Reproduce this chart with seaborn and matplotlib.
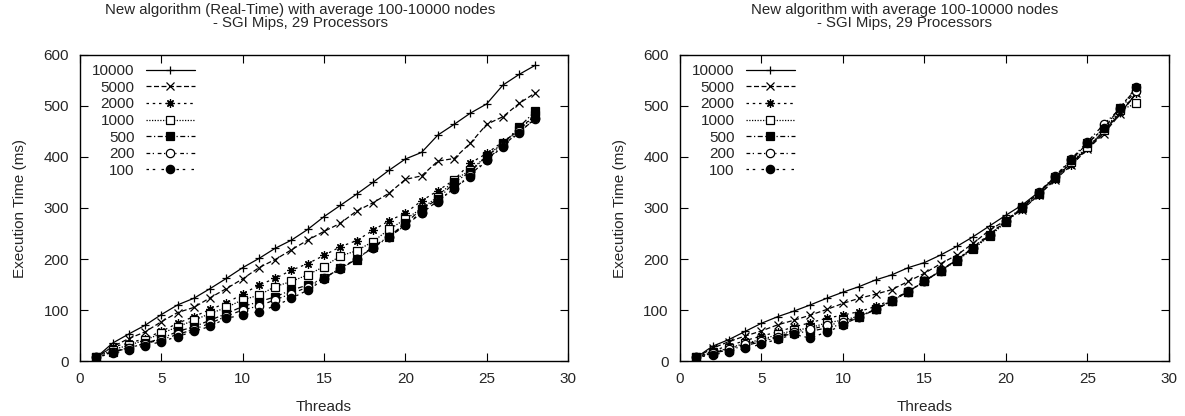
import numpy as np
import pandas as pd
import matplotlib
matplotlib.use("Agg")
import matplotlib.pyplot as plt
import seaborn as sns

# Data (execution time in ms per thread count)
threads = list(range(1, 29))
node_counts = ["10000", "5000", "2000", "1000", "500", "200", "100"]

# Left panel: new algorithm (Real-Time)
rt_10000 = [7, 35, 53, 70, 91, 110, 123, 142, 162, 183, 201, 221, 237, 258,
            283, 305, 327, 350, 374, 396, 409, 443, 464, 486, 504, 541, 562, 580]
rt_5000 = [7, 28, 44, 57, 77, 95, 105, 124, 142, 161, 183, 199, 218, 237,
           254, 270, 294, 310, 329, 356, 363, 392, 397, 427, 464, 479, 505, 526]
rt_2000 = [7, 28, 35, 44, 58, 74, 87, 101, 114, 131, 149, 162, 178, 191,
           207, 224, 236, 256, 275, 290, 314, 334, 355, 388, 407, 430, 453, 485]
rt_1000 = [7, 22, 31, 41, 54, 67, 80, 93, 105, 120, 129, 146, 156, 169,
           185, 206, 216, 234, 258, 278, 299, 322, 355, 374, 402, 427, 453, 482]
rt_500 = [7, 18, 25, 35, 44, 58, 67, 80, 93, 107, 116, 126, 139, 149,
          162, 182, 199, 224, 244, 270, 298, 317, 350, 371, 402, 425, 459, 490]
rt_200 = [7, 18, 26, 34, 42, 52, 62, 74, 88, 100, 108, 120, 132, 145,
          162, 182, 200, 222, 243, 266, 290, 314, 338, 365, 395, 422, 450, 474]
rt_100 = [7, 15, 22, 30, 38, 48, 58, 68, 84, 90, 97, 108, 123, 139,
          160, 180, 200, 222, 243, 267, 291, 312, 340, 361, 394, 420, 448, 476]

# Right panel: new algorithm
na_10000 = [7, 29, 42, 58, 74, 87, 98, 110, 123, 135, 146, 159, 169, 183,
            193, 208, 225, 244, 265, 286, 306, 331, 359, 388, 417, 450, 486, 525]
na_5000 = [7, 25, 38, 49, 59, 71, 80, 90, 101, 113, 123, 131, 140, 156,
           172, 191, 208, 231, 257, 276, 297, 325, 355, 384, 415, 446, 484, 525]
na_2000 = [7, 20, 30, 40, 49, 57, 67, 75, 84, 90, 97, 107, 120, 136,
           156, 178, 198, 224, 249, 275, 299, 325, 357, 384, 417, 451, 489, 525]
na_1000 = [7, 17, 25, 35, 42, 52, 60, 65, 75, 80, 88, 101, 118, 136,
           156, 177, 197, 220, 245, 272, 300, 328, 358, 390, 420, 452, 492, 505]
na_500 = [7, 15, 22, 30, 38, 46, 55, 58, 65, 72, 86, 101, 118, 136,
          156, 177, 199, 222, 247, 275, 301, 330, 361, 394, 427, 456, 497, 535]
na_200 = [7, 16, 24, 33, 40, 48, 57, 62, 70, 76, 87, 102, 119, 137,
          157, 178, 199, 222, 247, 275, 302, 331, 362, 396, 430, 464, 495, 530]
na_100 = [7, 12, 18, 25, 33, 43, 52, 45, 57, 70, 86, 101, 118, 136,
          156, 177, 199, 222, 247, 275, 301, 330, 361, 394, 427, 456, 497, 537]

left_series = [rt_10000, rt_5000, rt_2000, rt_1000, rt_500, rt_200, rt_100]
right_series = [na_10000, na_5000, na_2000, na_1000, na_500, na_200, na_100]

titles = ["New algorithm (Real-Time) with average 100-10000 nodes\n- SGI Mips, 29 Processors",
          "New algorithm with average 100-10000 nodes\n- SGI Mips, 29 Processors"]

# gnuplot-like line styles and point types
line_styles = ["-", (0, (4, 2)), (0, (2, 3)), (0, (1, 1.2)),
               (0, (4, 2, 1, 2)), (0, (3, 2, 1, 3)), (0, (2, 3, 2, 5))]
markers = ["+", "x", (8, 2, 0), "s", "s", "o", "o"]
face_colors = ["black", "black", "black", "white", "black", "white", "black"]

FS = 11

sns.set_style("ticks")
plt.rcParams["font.family"] = ["Liberation Sans", "DejaVu Sans"]
plt.rcParams["font.size"] = FS

fig = plt.figure(figsize=(11.85, 4.16), dpi=100)
ax_left = fig.add_axes([0.0675, 0.1322, 0.4118, 0.7356])
ax_right = fig.add_axes([0.5738, 0.1322, 0.4127, 0.7356])

# title centres sit a little left of the axes centre, as in gnuplot output
title_x = [0.451, 0.46]

for ax, series, title, tx in zip([ax_left, ax_right], [left_series, right_series], titles, title_x):
    for label, vals, ls, mk, fc in zip(node_counts, series, line_styles, markers, face_colors):
        df = pd.DataFrame({"Threads": threads, "Time": vals})
        sns.lineplot(data=df, x="Threads", y="Time", ax=ax, label=label,
                     color="black", linewidth=0.9, linestyle=ls,
                     marker=mk, markersize=6, markerfacecolor=fc,
                     markeredgecolor="black", markeredgewidth=0.9)
    ax.set_xlim(0, 30)
    ax.set_ylim(0, 600)
    ax.set_xticks(np.arange(0, 31, 5))
    ax.set_yticks(np.arange(0, 601, 100))
    ax.set_xlabel("Threads", fontsize=FS, labelpad=10)
    ax.set_ylabel("Execution Time (ms)", fontsize=FS, labelpad=12)
    ax.set_title(title, fontsize=10.8, pad=20, linespacing=0.95, x=tx)
    ax.tick_params(direction="in", length=6, width=0.8, top=True, right=True,
                   labelsize=FS, pad=8, color="black")
    for sp in ax.spines.values():
        sp.set_visible(True)
        sp.set_linewidth(1.0)
        sp.set_color("black")
    ax.legend(loc="upper left", bbox_to_anchor=(0.006, 1.0), frameon=False,
              markerfirst=False, handlelength=3.2, handletextpad=0.75,
              labelspacing=0.17, borderaxespad=0.2, fontsize=FS)

fig.savefig("out.png", dpi=100)
